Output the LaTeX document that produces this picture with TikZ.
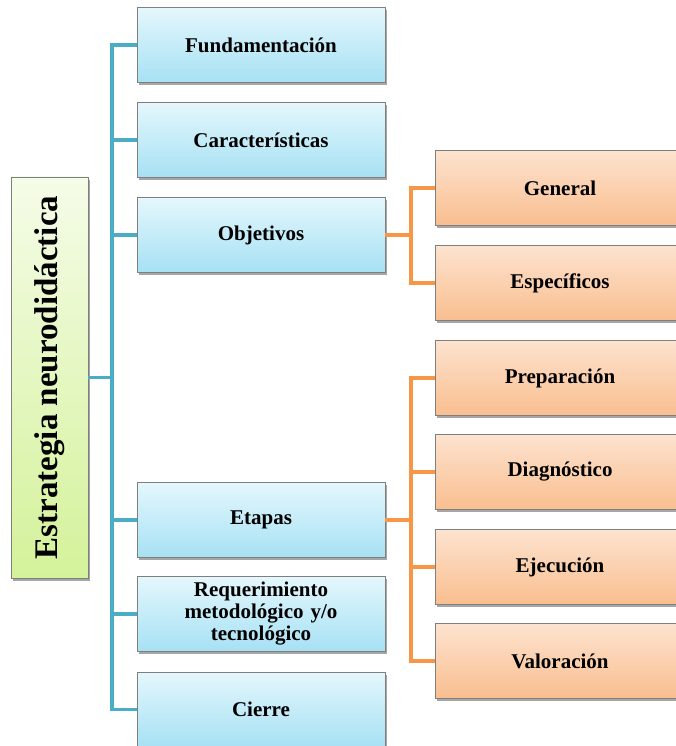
\documentclass[tikz,border=0pt]{standalone}
\usepackage{fontspec}
\setmainfont{Liberation Serif}
\usepackage{xcolor}
\definecolor{stemblue}{HTML}{4BACC6}
\definecolor{stemorange}{HTML}{F79646}
\definecolor{bluetop}{HTML}{E4F7FC}
\definecolor{bluebot}{HTML}{A6E1F4}
\definecolor{orangetop}{HTML}{FDE3CF}
\definecolor{orangebot}{HTML}{F9BE8F}
\definecolor{greentop}{HTML}{F5FCE8}
\definecolor{greenbot}{HTML}{D4F29A}
\definecolor{boxedge}{HTML}{7F7F7F}
\usepackage{tikz}
\usetikzlibrary{positioning, shadows, calc}

\begin{document}
\begin{tikzpicture}[x=1pt, y=-1pt,
    basebox/.style={draw=boxedge, line width=0.6pt, align=center,
      inner sep=2pt, font=\bfseries\fontsize{21}{22}\selectfont,
      drop shadow={shadow xshift=1.5pt, shadow yshift=-2.5pt,
        opacity=0.35, fill=black}},
    rootbox/.style={basebox, top color=greentop, bottom color=greenbot,
      minimum width=77pt, minimum height=401pt,
      font=\bfseries\fontsize{33}{36}\selectfont},
    topicbox/.style={basebox, top color=bluetop, bottom color=bluebot,
      minimum width=248pt, minimum height=75pt, text width=240pt},
    detailbox/.style={basebox, top color=orangetop, bottom color=orangebot,
      minimum width=250pt, minimum height=75pt, text width=242pt},
    blueline/.style={stemblue, line width=3.5pt},
    orangeline/.style={stemorange, line width=3.5pt}]
  \useasboundingbox (0,0) rectangle (675,746);
  % Root
  \node[rootbox] (root) at (49.5,377.5)
    {\rotatebox{90}{Estrategia neurodidáctica}};
  % Topics (blue)
  \node[topicbox] (fund) at (261,45) {Fundamentación};
  \node[topicbox] (carac) at (261,140) {Características};
  \node[topicbox] (obj) at (261,235) {Objetivos};
  \node[topicbox] (etapas) at (261,520) {Etapas};
  \node[topicbox] (req) at (261,614)
    {Requerimiento\\metodológico y/o\\tecnológico};
  \node[topicbox] (cierre) at (261,709.5) {Cierre};
  % Details (orange)
  \node[detailbox] (gen) at (560,188) {General};
  \node[detailbox] (espec) at (560,283) {Específicos};
  \node[detailbox] (prep) at (560,378) {Preparación};
  \node[detailbox] (diag) at (560,472) {Diagnóstico};
  \node[detailbox] (ejec) at (560,567) {Ejecución};
  \node[detailbox] (val) at (560,661) {Valoración};
  % Blue stem
  \coordinate (bus) at (112,0);
  \draw[blueline] (root.east) -- (bus |- root.east);
  \draw[blueline] (fund.west) -| (bus |- cierre.west) -- (cierre.west);
  \foreach \n in {carac, obj, etapas, req}
    \draw[blueline] (bus |- \n.west) -- (\n.west);
  % Orange stems
  \coordinate (obus) at (411,0);
  \draw[orangeline] (obj.east) -- (obus |- obj.east);
  \draw[orangeline] (gen.west) -| (obus |- espec.west) -- (espec.west);
  \draw[orangeline] (etapas.east) -- (obus |- etapas.east);
  \draw[orangeline] (prep.west) -| (obus |- val.west) -- (val.west);
  \foreach \n in {diag, ejec}
    \draw[orangeline] (obus |- \n.west) -- (\n.west);
\end{tikzpicture}
\end{document}
